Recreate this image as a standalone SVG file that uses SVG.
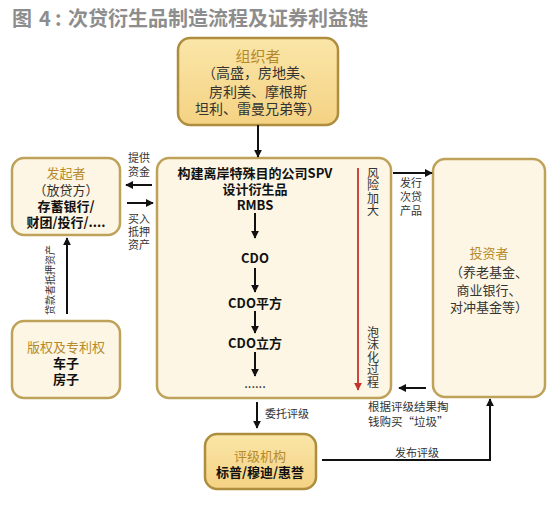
<svg xmlns="http://www.w3.org/2000/svg" width="551" height="511" viewBox="0 0 551 511">
<style>
.t{font-family:"Noto Sans CJK SC","Liberation Sans",sans-serif;text-anchor:middle}
.b{font-weight:bold;fill:#111;font-size:13px}
.g{fill:#b68a2c;font-size:13px}
.k{fill:#333;font-size:13px}
.s{fill:#333;font-size:11px}
.v{font-family:"Noto Sans CJK SC",sans-serif;fill:#333;font-size:12px;writing-mode:vertical-rl;letter-spacing:0.5px}
.box{fill:#fdf6e4;stroke:#bfa259;stroke-width:2.5}
.hbox{fill:url(#gold);stroke:#ae8d3e;stroke-width:2.5}
.ar{stroke:#111;stroke-width:2;fill:none;marker-end:url(#ah)}
</style>
<defs>
<linearGradient id="gold" x1="0" y1="0" x2="0" y2="1">
<stop offset="0" stop-color="#fae6a8"/>
<stop offset="1" stop-color="#f4d283"/>
</linearGradient>
<marker id="ah" viewBox="0 0 10 10" refX="9" refY="5" markerWidth="8" markerHeight="8" markerUnits="userSpaceOnUse" orient="auto">
<path d="M0,0 L10,5 L0,10 z" fill="#111"/>
</marker>
<marker id="rh" viewBox="0 0 10 10" refX="9" refY="5" markerWidth="8" markerHeight="8" markerUnits="userSpaceOnUse" orient="auto">
<path d="M0,0 L10,5 L0,10 z" fill="#c8322c"/>
</marker>
</defs>
<rect width="551" height="511" fill="#ffffff"/>
<text y="25.5" font-family="Noto Sans CJK SC, Liberation Sans, sans-serif" font-size="20" font-weight="bold" fill="#8d8d8d"><tspan x="12">图</tspan><tspan x="39">4</tspan><tspan x="55">:</tspan><tspan x="68">次贷衍生品制造流程及证券利益链</tspan></text>

<g id="organizer">
<rect class="hbox" x="178" y="38" width="160" height="87" rx="12"/>
<text class="t g" x="258" y="62" style="font-size:15px">组织者</text>
<text class="t k" x="258" y="78" style="font-size:14px">（高盛，房地美、</text>
<text class="t k" x="258" y="97" style="font-size:14px">房利美、摩根斯</text>
<text class="t k" x="258" y="114" style="font-size:14px">坦利、雷曼兄弟等）</text>
</g>

<g id="spv">
<rect class="box" x="157" y="158" width="234" height="240" rx="12"/>
<text class="t b" x="255" y="177.5">构建离岸特殊目的公司SPV</text>
<text class="t b" x="255" y="193.5">设计衍生品</text>
<text class="t b" x="255" y="209.5">RMBS</text>
<text class="t b" x="255" y="262.5">CDO</text>
<text class="t b" x="255" y="307.5">CDO平方</text>
<text class="t b" x="255" y="347.5">CDO立方</text>
<text class="t" x="255" y="388" style="font-size:13px;fill:#111">......</text>
<line x1="358" y1="168" x2="358" y2="390" stroke="#c8322c" stroke-width="1.8" marker-end="url(#rh)"/>
<text class="v" x="373" y="167">风险加大</text>
<text class="v" x="373" y="326">泡沫化过程</text>
</g>

<g id="originator">
<rect class="box" x="12" y="158" width="108" height="77" rx="12"/>
<text class="t g" x="66" y="177.5">发起者</text>
<text class="t k" x="66" y="194.5">（放贷方）</text>
<text class="t b" x="66" y="210.5">存蓄银行/</text>
<text class="t b" x="66" y="226.5">财团/投行/....</text>
</g>

<g id="assets">
<rect class="box" x="12" y="321" width="108" height="77" rx="12"/>
<text class="t g" x="66" y="351.5">版权及专利权</text>
<text class="t b" x="66" y="367.5">车子</text>
<text class="t b" x="66" y="383.5">房子</text>
</g>

<g id="investor">
<rect class="box" x="433" y="159" width="112" height="238" rx="12"/>
<text class="t g" x="489" y="257.5">投资者</text>
<text class="t k" x="489" y="276.5">（养老基金、</text>
<text class="t k" x="489" y="294.5">商业银行、</text>
<text class="t k" x="489" y="311.5">对冲基金等）</text>
</g>

<g id="rating">
<rect class="hbox" x="205" y="434" width="111" height="55" rx="12"/>
<text class="t g" x="260" y="460.5">评级机构</text>
<text class="t b" x="260" y="476.5">标普/穆迪/惠誉</text>
</g>

<g id="connectors">
<line class="ar" x1="258" y1="125" x2="258" y2="157"/>
<line class="ar" x1="255" y1="213" x2="255" y2="238"/>
<line class="ar" x1="255" y1="268" x2="255" y2="292"/>
<line class="ar" x1="255" y1="311" x2="255" y2="333"/>
<line class="ar" x1="255" y1="352" x2="255" y2="376"/>
<line class="ar" x1="152" y1="185" x2="126" y2="185"/>
<line class="ar" x1="127" y1="203" x2="153" y2="203"/>
<text class="t s"><tspan x="139" y="162">提供</tspan><tspan x="139" y="176">资金</tspan></text>
<text class="t s"><tspan x="139" y="223">买入</tspan><tspan x="139" y="236">抵押</tspan><tspan x="139" y="249">资产</tspan></text>
<line class="ar" x1="67" y1="314" x2="67" y2="238"/>
<text class="t s" style="font-size:10px" transform="translate(50,280) rotate(-90)" y="3.5">贷款者抵押资产</text>
<line class="ar" x1="393" y1="173" x2="432" y2="173"/>
<text class="t s"><tspan x="411" y="187">发行</tspan><tspan x="411" y="201">次贷</tspan><tspan x="411" y="215">产品</tspan></text>
<line class="ar" x1="426" y1="388" x2="399" y2="388"/>
<text class="s" x="368" y="411" font-family="Noto Sans CJK SC, sans-serif" style="font-size:11.5px">根据评级结果掏</text>
<text class="s" x="368" y="426" font-family="Noto Sans CJK SC, sans-serif" style="font-size:11.5px">钱购买“垃圾”</text>
<line class="ar" x1="257" y1="402" x2="257" y2="428"/>
<text class="s" x="265" y="418" font-family="Noto Sans CJK SC, sans-serif">委托评级</text>
<polyline class="ar" points="322,460 490,460 490,399"/>
<text class="t s" x="417" y="457">发布评级</text>
</g>
</svg>
